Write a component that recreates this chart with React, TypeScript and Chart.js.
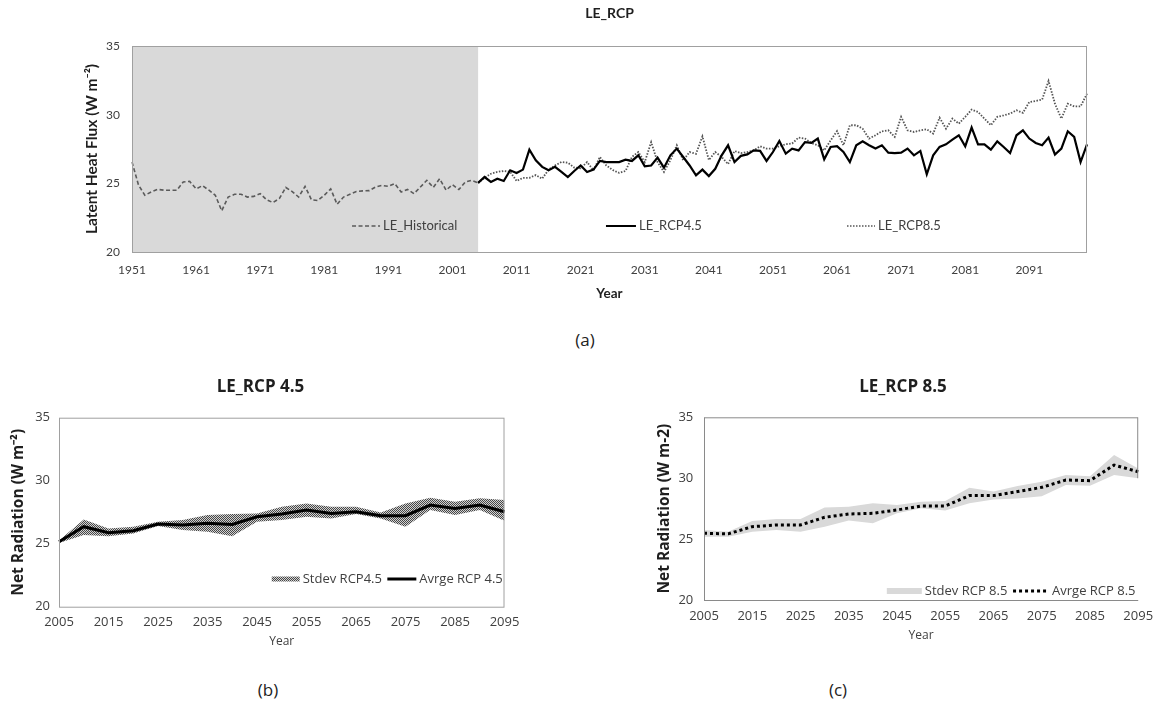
import React, { useEffect, useRef } from 'react';
import { Chart, registerables } from 'chart.js';

Chart.register(...registerables);

// ---------- (a) annual latent heat flux, 1951–2100 ----------
const YEARS = Array.from({ length: 150 }, (_, i) => String(1951 + i));

// 1951–2005
const LE_HISTORICAL = [
  26.55, 24.9, 24.13, 24.37, 24.56, 24.5, 24.5, 24.5, 25.1, 25.14,
  24.6, 24.83, 24.5, 24.13, 23.0, 24.0, 24.2, 24.2, 24.0, 24.05,
  24.25, 23.8, 23.6, 23.9, 24.7, 24.4, 24.0, 24.78, 23.8, 23.75,
  24.13, 24.6, 23.47, 24.0, 24.2, 24.4, 24.45, 24.47, 24.73, 24.85,
  24.78, 24.98, 24.37, 24.55, 24.25, 24.73, 25.22, 24.7, 25.34, 24.5,
  24.9, 24.55, 25.1, 25.22, 25.03,
];

// 2005–2100
const LE_RCP45 = [
  25.03, 25.46, 25.1, 25.34, 25.17, 25.95, 25.75, 26.0, 27.45, 26.68,
  26.2, 25.95, 26.2, 25.83, 25.46, 25.9, 26.3, 25.83, 26.0, 26.63,
  26.55, 26.55, 26.55, 26.72, 26.63, 27.04, 26.24, 26.3, 26.87, 26.14,
  27.04, 27.53, 26.92, 26.3, 25.58, 26.0, 25.53, 26.06, 27.04, 27.77,
  26.55, 27.0, 27.11, 27.4, 27.36, 26.63, 27.28, 28.08, 27.16, 27.53,
  27.4, 28.0, 27.94, 28.26, 26.75, 27.65, 27.7, 27.28, 26.55, 27.77,
  28.06, 27.77, 27.53, 27.77, 27.23, 27.2, 27.23, 27.53, 27.04, 27.36,
  25.66, 27.04, 27.65, 27.84, 28.18, 28.5, 27.7, 29.06, 27.84, 27.84,
  27.45, 28.06, 27.65, 27.2, 28.5, 28.86, 28.26, 27.94, 27.77, 28.33,
  27.1, 27.53, 28.79, 28.38, 26.55, 27.84,
];

// 2005–2100
const LE_RCP85 = [
  25.03, 25.4, 25.7, 25.83, 25.9, 25.85, 25.17, 25.4, 25.4, 25.6,
  25.34, 26.0, 26.3, 26.55, 26.5, 26.15, 26.1, 26.55, 25.95, 26.92,
  26.3, 25.97, 25.76, 25.9, 26.92, 27.28, 26.55, 28.0, 26.55, 25.83,
  26.68, 27.77, 26.68, 27.28, 27.15, 28.42, 26.7, 27.28, 26.92, 26.4,
  27.35, 27.2, 27.28, 27.4, 27.7, 27.53, 27.53, 27.7, 27.85, 27.9,
  28.33, 28.26, 27.94, 27.77, 27.4, 28.13, 28.8, 27.77, 29.23, 29.23,
  28.98, 28.26, 28.5, 28.79, 28.86, 28.38, 29.84, 28.86, 28.74, 28.86,
  28.94, 28.62, 29.78, 28.98, 29.71, 29.35, 29.84, 30.37, 30.2, 29.71,
  29.23, 29.84, 29.95, 30.08, 30.32, 30.13, 30.92, 31.0, 31.1, 32.45,
  30.8, 29.71, 30.8, 30.6, 30.6, 31.53,
];

// ---------- (b), (c) five-year ensemble statistics, 2005–2095 ----------
const PERIODS = [
  '2005', '2010', '2015', '2020', '2025', '2030', '2035', '2040', '2045', '2050',
  '2055', '2060', '2065', '2070', '2075', '2080', '2085', '2090', '2095',
];

const AVG_RCP45 = [25.16, 26.35, 25.87, 26.03, 26.56, 26.48, 26.62, 26.53, 27.14, 27.36, 27.67, 27.4, 27.54, 27.22, 27.22, 28.07, 27.8, 28.07, 27.54];
const UPPER_RCP45 = [25.25, 26.93, 26.2, 26.35, 26.75, 26.88, 27.28, 27.36, 27.4, 27.94, 28.2, 27.94, 27.94, 27.48, 28.2, 28.65, 28.33, 28.6, 28.47];
const LOWER_RCP45 = [25.05, 25.69, 25.6, 25.8, 26.4, 26.08, 25.95, 25.6, 26.75, 26.88, 27.14, 27.0, 27.36, 27.0, 26.35, 27.67, 27.28, 27.67, 26.83];

const AVG_RCP85 = [25.48, 25.43, 26.02, 26.16, 26.16, 26.79, 27.06, 27.12, 27.39, 27.72, 27.72, 28.57, 28.57, 28.9, 29.25, 29.85, 29.8, 31.08, 30.53];
const UPPER_RCP85 = [25.75, 25.6, 26.49, 26.65, 26.65, 27.6, 27.65, 27.94, 27.8, 28.07, 28.12, 29.22, 28.9, 29.36, 29.71, 30.26, 30.17, 31.9, 30.8];
const LOWER_RCP85 = [25.2, 25.2, 25.6, 25.75, 25.6, 26.02, 26.52, 26.3, 27.12, 27.53, 27.34, 27.94, 28.25, 28.33, 28.52, 29.44, 29.39, 30.26, 30.0];

const HIST_END = YEARS.indexOf('2005');

const TEXT = '#404040';
const TITLE = '#1f1f1f';

type LegendEntry = {
  text: string;
  fx: number; // position along the plot width (0..1)
  kind: 'line' | 'swatch';
  style: string | CanvasPattern;
  dash?: number[];
  width?: number;
  len: number;
  thick?: number;
};

function drawLegend(
  chart: any,
  entries: LegendEntry[],
  fromBottom: number,
  font: string,
) {
  const { ctx, chartArea: a } = chart;
  const y = a.bottom - fromBottom;
  ctx.save();
  ctx.font = font;
  ctx.textBaseline = 'middle';
  ctx.textAlign = 'left';
  for (const e of entries) {
    const x0 = a.left + e.fx * (a.right - a.left);
    if (e.kind === 'line') {
      ctx.beginPath();
      ctx.setLineDash(e.dash || []);
      ctx.lineWidth = e.width || 2;
      ctx.strokeStyle = e.style as any;
      ctx.moveTo(x0, y);
      ctx.lineTo(x0 + e.len, y);
      ctx.stroke();
      ctx.setLineDash([]);
    } else {
      const h = e.thick || 6;
      ctx.fillStyle = e.style as any;
      ctx.fillRect(x0, y - h / 2, e.len, h);
    }
    ctx.fillStyle = TEXT;
    ctx.fillText(e.text, x0 + e.len + 3, y);
  }
  ctx.restore();
}

function strokeLine(ctx: CanvasRenderingContext2D, x1: number, y1: number, x2: number, y2: number) {
  ctx.beginPath();
  ctx.moveTo(x1, y1);
  ctx.lineTo(x2, y2);
  ctx.stroke();
}

// fine checker used for the RCP4.5 spread band
function meshPattern(ctx: CanvasRenderingContext2D): CanvasPattern | string {
  const tile = document.createElement('canvas');
  tile.width = 2;
  tile.height = 2;
  const g = tile.getContext('2d');
  if (!g) return '#8c8c8c';
  g.fillStyle = '#d2d2d2';
  g.fillRect(0, 0, 2, 2);
  g.fillStyle = '#474747';
  g.fillRect(0, 0, 1, 1);
  g.fillRect(1, 1, 1, 1);
  return ctx.createPattern(tile, 'repeat') || '#8c8c8c';
}

export default function App() {
  const topRef = useRef<HTMLCanvasElement>(null);
  const leftRef = useRef<HTMLCanvasElement>(null);
  const rightRef = useRef<HTMLCanvasElement>(null);

  useEffect(() => {
    const charts: Chart[] = [];

    // ---------------- (a) ----------------
    if (topRef.current) {
      const pad = (n: number) => Array(n).fill(null);
      const hist = [...LE_HISTORICAL, ...pad(YEARS.length - LE_HISTORICAL.length)];
      const r45 = [...pad(HIST_END), ...LE_RCP45];
      const r85 = [...pad(HIST_END), ...LE_RCP85];

      const decor = {
        id: 'decorA',
        beforeDatasetsDraw(chart: any) {
          const { ctx, chartArea: a, scales } = chart;
          const xEnd = scales.x.getPixelForValue(HIST_END);
          ctx.save();
          ctx.fillStyle = '#d9d9d9';
          ctx.fillRect(a.left, a.top, xEnd - a.left, a.bottom - a.top);
          ctx.restore();
        },
        afterDatasetsDraw(chart: any) {
          const { ctx, chartArea: a } = chart;
          ctx.save();
          ctx.strokeStyle = '#a0a0a0';
          ctx.lineWidth = 1;
          ctx.strokeRect(a.left + 0.5, a.top + 0.5, a.right - a.left - 1, a.bottom - a.top);
          ctx.restore();
          drawLegend(
            chart,
            [
              { text: 'LE_Historical', fx: 0.2304, kind: 'line', style: '#5a5a5a', dash: [4, 2.5], width: 1.5, len: 28 },
              { text: 'LE_RCP4.5', fx: 0.4963, kind: 'line', style: '#000000', width: 2, len: 30 },
              { text: 'LE_RCP8.5', fx: 0.7487, kind: 'line', style: '#555555', dash: [1.5, 1.5], width: 1.5, len: 28 },
            ],
            26,
            '13px Lato',
          );
        },
      };

      charts.push(
        new Chart(topRef.current, {
          type: 'line',
          data: {
            labels: YEARS,
            datasets: [
              { label: 'LE_Historical', data: hist, borderColor: '#5a5a5a', borderWidth: 1.6, borderDash: [4, 2.5], pointRadius: 0 },
              { label: 'LE_RCP4.5', data: r45, borderColor: '#000000', borderWidth: 2.2, pointRadius: 0 },
              { label: 'LE_RCP8.5', data: r85, borderColor: '#555555', borderWidth: 1.8, borderDash: [1.5, 1.5], pointRadius: 0 },
            ],
          },
          options: {
            responsive: false,
            animation: false,
            events: [],
            layout: { padding: { left: 0, right: 75, top: 0, bottom: 0 } },
            plugins: {
              legend: { display: false },
              tooltip: { enabled: false },
              title: {
                display: true,
                text: 'LE_RCP',
                fullSize: false,
                color: TITLE,
                font: { family: 'Lato', size: 14, weight: 'bold' },
                padding: { top: 4.6, bottom: 24.6 },
              },
            },
            scales: {
              x: {
                type: 'category',
                offset: false,
                grid: { display: false, drawTicks: false },
                border: { display: false },
                ticks: {
                  autoSkip: false,
                  maxRotation: 0,
                  minRotation: 0,
                  padding: 10.8,
                  color: TEXT,
                  font: { family: 'Lato', size: 12 },
                  callback: (_v: any, i: number) => (i % 10 === 0 ? YEARS[i] : ''),
                },
                title: {
                  display: true,
                  text: 'Year',
                  color: TITLE,
                  font: { family: 'Lato', size: 13.5, weight: 'bold' },
                  padding: { top: 0, bottom: 18.6 },
                },
                afterFit: (s: any) => { s.height = 68; },
              },
              y: {
                min: 20,
                max: 35,
                grid: { display: false, drawTicks: false },
                border: { display: false },
                ticks: { stepSize: 5, padding: 12, color: TEXT, font: { family: 'Lato', size: 12 } },
                title: {
                  display: true,
                  text: 'Latent Heat Flux (W m⁻²)',
                  color: TITLE,
                  font: { family: 'Lato', size: 15.5, weight: 'bold' },
                  padding: { top: 82.4, bottom: 0 },
                },
                afterFit: (s: any) => { s.width = 132; },
              },
            },
          },
          plugins: [decor],
        } as any),
      );
    }

    // ---------------- (b) and (c) ----------------
    const panel = (
      canvas: HTMLCanvasElement,
      cfg: {
        title: string;
        yTitle: string;
        avg: number[];
        upper: number[];
        lower: number[];
        band: string | CanvasPattern;
        avgDash: number[];
        padLeft: number;
        padRight: number;
        yWidth: number;
        xHeight: number;
        titlePadBottom: number;
        yTitlePad: number;
        yTickPad: number;
        xTickPad: number;
        xTitlePad: number;
        legend: LegendEntry[];
        legendFromBottom: number;
        drawBorder: (chart: any) => void;
      },
    ) =>
      new Chart(canvas, {
        type: 'line',
        data: {
          labels: PERIODS,
          datasets: [
            { label: 'avg', data: cfg.avg, borderColor: '#000000', borderWidth: 3, borderDash: cfg.avgDash, pointRadius: 0, fill: false },
            { label: 'upper', data: cfg.upper, borderWidth: 0, borderColor: 'rgba(0,0,0,0)', backgroundColor: cfg.band as any, pointRadius: 0, fill: '+1' },
            { label: 'lower', data: cfg.lower, borderWidth: 0, borderColor: 'rgba(0,0,0,0)', pointRadius: 0, fill: false },
          ],
        },
        options: {
          responsive: false,
          animation: false,
          events: [],
          layout: { padding: { left: cfg.padLeft, right: cfg.padRight, top: 0, bottom: 0 } },
          plugins: {
            legend: { display: false },
            tooltip: { enabled: false },
            title: {
              display: true,
              text: cfg.title,
              color: TITLE,
              font: { family: 'Open Sans', size: 17, weight: 'bold' },
              padding: { top: 16.5, bottom: cfg.titlePadBottom },
            },
          },
          scales: {
            x: {
              type: 'category',
              offset: false,
              grid: { display: false, drawTicks: false },
              border: { display: false },
              ticks: {
                autoSkip: false,
                maxRotation: 0,
                minRotation: 0,
                padding: cfg.xTickPad,
                color: TEXT,
                font: { family: 'Open Sans', size: 13 },
                callback: (_v: any, i: number) => (i % 2 === 0 ? PERIODS[i] : ''),
              },
              title: {
                display: true,
                text: 'Year',
                color: TEXT,
                font: { family: 'Open Sans', size: 12 },
                padding: { top: 0, bottom: cfg.xTitlePad },
              },
              afterFit: (s: any) => { s.height = cfg.xHeight; },
            },
            y: {
              min: 20,
              max: 35,
              grid: { display: false, drawTicks: false },
              border: { display: false },
              ticks: { stepSize: 5, padding: cfg.yTickPad, color: TEXT, font: { family: 'Open Sans', size: 13 } },
              title: {
                display: true,
                text: cfg.yTitle,
                color: TITLE,
                font: { family: 'Open Sans', size: 15.5, weight: 'bold' },
                padding: { top: cfg.yTitlePad, bottom: 0 },
              },
              afterFit: (s: any) => { s.width = cfg.yWidth; },
            },
          },
        },
        plugins: [
          {
            id: 'panelDecor',
            afterDatasetsDraw(chart: any) {
              cfg.drawBorder(chart);
              drawLegend(chart, cfg.legend, cfg.legendFromBottom, '13px "Open Sans"');
            },
          },
        ],
      } as any);

    if (leftRef.current) {
      const ctx = leftRef.current.getContext('2d') as CanvasRenderingContext2D;
      const mesh = meshPattern(ctx);
      charts.push(
        panel(leftRef.current, {
          title: 'LE_RCP 4.5',
          yTitle: 'Net Radiation (W m⁻²)',
          avg: AVG_RCP45,
          upper: UPPER_RCP45,
          lower: LOWER_RCP45,
          band: mesh,
          avgDash: [],
          padLeft: 16.5,
          padRight: 35.5,
          yWidth: 42.5,
          xHeight: 53.3,
          titlePadBottom: 20.8,
          yTitlePad: -7.1,
          yTickPad: 9,
          xTickPad: 7.8,
          xTitlePad: 11.1,
          legend: [
            { text: 'Stdev RCP4.5', fx: 0.4775, kind: 'swatch', style: mesh, len: 28, thick: 5 },
            { text: 'Avrge RCP 4.5', fx: 0.737, kind: 'line', style: '#000000', width: 3, len: 29 },
          ],
          legendFromBottom: 27.7,
          drawBorder: (chart: any) => {
            const { ctx: c, chartArea: a } = chart;
            c.save();
            c.strokeStyle = '#a0a0a0';
            c.lineWidth = 1;
            c.strokeRect(a.left + 0.5, a.top + 0.5, a.right - a.left - 1, a.bottom - a.top);
            c.restore();
          },
        }),
      );
    }

    if (rightRef.current) {
      charts.push(
        panel(rightRef.current, {
          title: 'LE_RCP 8.5',
          yTitle: 'Net Radiation (W m-2)',
          avg: AVG_RCP85,
          upper: UPPER_RCP85,
          lower: LOWER_RCP85,
          band: '#d9d9d9',
          avgDash: [3, 3],
          padLeft: 45,
          padRight: 21,
          yWidth: 39,
          xHeight: 60,
          titlePadBottom: 20.4,
          yTitlePad: -9.3,
          yTickPad: 10.7,
          xTickPad: 8.9,
          xTitlePad: 17.1,
          legend: [
            { text: 'Stdev RCP 8.5', fx: 0.421, kind: 'swatch', style: '#d9d9d9', len: 35, thick: 6 },
            { text: 'Avrge RCP 8.5', fx: 0.7117, kind: 'line', style: '#000000', dash: [3, 3], width: 3, len: 36 },
          ],
          legendFromBottom: 9,
          drawBorder: (chart: any) => {
            const { ctx: c, chartArea: a, scales } = chart;
            const yEnd = scales.y.getPixelForValue(LOWER_RCP85[LOWER_RCP85.length - 1]);
            c.save();
            c.strokeStyle = '#8a8a8a';
            c.lineWidth = 1;
            strokeLine(c, a.left + 0.5, a.top + 0.5, a.right - 0.5, a.top + 0.5);
            strokeLine(c, a.left + 0.5, a.top, a.left + 0.5, a.bottom);
            strokeLine(c, a.left, a.bottom + 0.5, a.right, a.bottom + 0.5);
            strokeLine(c, a.right - 0.5, a.top, a.right - 0.5, yEnd);
            c.restore();
          },
        }),
      );
    }

    return () => charts.forEach((c) => c.destroy());
  }, []);

  const caption: React.CSSProperties = {
    position: 'absolute',
    width: 60,
    textAlign: 'center',
    fontFamily: '"Open Sans", sans-serif',
    fontSize: 17,
    lineHeight: '24px',
    color: '#222',
  };

  return (
    <div style={{ position: 'absolute', left: 0, top: 0, width: 1162, height: 702, background: '#ffffff', overflow: 'hidden' }}>
      <canvas ref={topRef} width={1162} height={320} style={{ position: 'absolute', left: 0, top: 0 }} />
      <div style={{ ...caption, left: 555, top: 328 }}>(a)</div>
      <canvas ref={leftRef} width={540} height={300} style={{ position: 'absolute', left: 0, top: 360 }} />
      <canvas ref={rightRef} width={542} height={300} style={{ position: 'absolute', left: 620, top: 360 }} />
      <div style={{ ...caption, left: 238, top: 678 }}>(b)</div>
      <div style={{ ...caption, left: 808, top: 678 }}>(c)</div>
    </div>
  );
}
